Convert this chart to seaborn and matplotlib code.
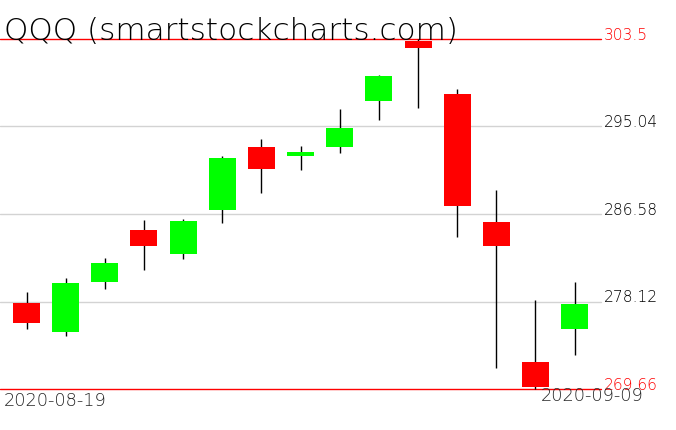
import pandas as pd
import matplotlib
matplotlib.use("Agg")
import matplotlib.pyplot as plt
import matplotlib.transforms as mtransforms
import seaborn as sns

# QQQ daily candles
dates = ["2020-08-19", "2020-08-20", "2020-08-21", "2020-08-24", "2020-08-25",
         "2020-08-26", "2020-08-27", "2020-08-28", "2020-08-31", "2020-09-01",
         "2020-09-02", "2020-09-03", "2020-09-04", "2020-09-08", "2020-09-09"]
opens = [277.97, 275.19, 280.00, 285.03, 282.71, 286.96, 293.06, 292.18,
         293.08, 297.53, 303.31, 298.18, 285.80, 272.26, 275.45]
highs = [279.06, 280.36, 282.32, 286.02, 286.12, 292.18, 293.83, 293.18,
         296.73, 300.02, 303.50, 298.66, 288.90, 278.26, 280.00]
lows = [275.45, 274.81, 279.32, 281.19, 282.22, 285.71, 288.64, 290.83,
        292.47, 295.70, 296.86, 284.38, 271.71, 269.66, 272.97]
closes = [276.06, 279.90, 281.84, 283.51, 285.90, 291.99, 290.93, 292.57,
          294.89, 299.92, 302.66, 287.35, 283.48, 269.87, 277.87]

grid_levels = [278.12, 286.58, 295.04]
range_levels = [269.66, 303.5]
range_labels = ["269.66", "303.5"]
title = "QQQ (smartstockcharts.com)"

sns.set_style("white")
plt.rcParams["font.family"] = ["DejaVu Sans"]

df = pd.DataFrame({"date": dates, "open": opens, "high": highs,
                   "low": lows, "close": closes})
df["i"] = range(len(df))
df["up"] = df["close"] >= df["open"]
df["bottom"] = df[["open", "close"]].min(axis=1)
df["height"] = (df["close"] - df["open"]).abs()

W, H = 676, 431
fig = plt.figure(figsize=(W / 100, H / 100), dpi=100)
ax = fig.add_axes([0, 1 - 390 / H, 601 / W, 350 / H])

for lv in grid_levels:
    ax.axhline(lv, color="#d3d3d3", lw=1, zorder=1, clip_on=False)
for lv in range_levels:
    ax.axhline(lv, color="#ff0000", lw=1, zorder=1, clip_on=False)

ax.vlines(df["i"], df["low"], df["high"], color="black", lw=1, zorder=2,
          clip_on=False)
ax.bar(df["i"], df["height"], bottom=df["bottom"], width=0.69,
       color=["#00ff00" if u else "#ff0000" for u in df["up"]],
       linewidth=0, zorder=3, clip_on=False)

ax.set_xlim(-0.677, 14.674)
ax.set_ylim(range_levels[0], range_levels[1])
ax.set_xticks([])
ax.set_yticks([])
for s in ax.spines.values():
    s.set_visible(False)

trans = mtransforms.blended_transform_factory(ax.transAxes, ax.transData)
for lv in grid_levels:
    ax.text(1.005, lv, f"{lv:.2f}", transform=trans, ha="left", va="baseline",
            fontsize=11.2, fontweight="light", color="black", clip_on=False)
for lv, lab in zip(range_levels, range_labels):
    ax.text(1.005, lv, lab, transform=trans, ha="left", va="baseline",
            fontsize=11.2, fontweight="light", color="#ff0000", clip_on=False)

fig.text(3.5 / W, 1 - 406 / H, dates[0], ha="left", va="baseline",
         fontsize=12.8, fontweight="light")
fig.text(540.5 / W, 1 - 401.5 / H, dates[-1], ha="left", va="baseline",
         fontsize=12.8, fontweight="light")
fig.text(4 / W, 1 - 39.5 / H, title, ha="left", va="baseline", fontsize=22.4,
         fontweight="light", color="black")

fig.savefig("out.png", dpi=100)
plt.close(fig)
